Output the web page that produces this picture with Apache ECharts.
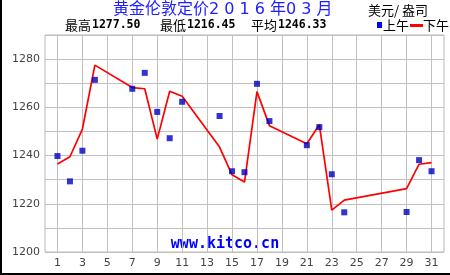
<!DOCTYPE html>
<html><head><meta charset="utf-8">
<script src="https://cdn.jsdelivr.net/npm/echarts@6/dist/echarts.min.js"></script>
<style>html,body{margin:0;padding:0;background:#fff}#c{width:450px;height:275px}</style>
</head><body><div id="c"></div>
<script>
const titleText = '黄金伦敦定价2 0 1 6 年0 3 月';
const unitText = '美元/ 盎司';
const statLabels = ['最高', '最低', '平均'];
const statValues = ['1277.50', '1216.45', '1246.33'];
const legendNames = ['上午', '下午'];
const xCategories = ['0','1','2','3','4','5','6','7','8','9','10','11','12','13','14','15','16','17','18','19','20','21','22','23','24','25','26','27','28','29','30','31','32'];
const days = [1,2,3,4,7,8,9,10,11,14,15,16,17,18,21,22,23,24,29,30,31];
const amFix = [1239.8,1229.3,1242.0,1271.4,1267.7,1274.3,1258.1,1247.2,1262.3,1256.4,1233.5,1233.1,1269.75,1254.3,1244.3,1251.8,1232.25,1216.45,1216.6,1238.1,1233.5];
const pmFix = [1236.5,1239.5,1251.0,1277.5,1268.2,1267.7,1246.8,1266.7,1264.6,1243.5,1232.0,1229.0,1266.5,1252.4,1244.9,1252.8,1217.4,1221.5,1226.3,1236.4,1237.1];
const yLabelStep = 20;
const watermark = 'www.kitco.cn';

const cjk = '"Noto Sans CJK SC", sans-serif';
const mixed = '"DejaVu Sans", "Noto Sans CJK SC", sans-serif';
const mono = '"DejaVu Sans Mono", monospace';
const oddDay = (i, v) => Number(v) % 2 === 1;
const chart = echarts.init(document.getElementById('c'), null, {renderer: 'canvas'});
const stats = [];
const statX = [65, 160, 251];
statLabels.forEach((l, i) => {
  stats.push({type: 'text', x: statX[i], y: 25, style: {text: l, fill: '#000', font: '13px ' + cjk, textVerticalAlign: 'middle'}});
  stats.push({type: 'text', x: statX[i] + 27, y: 25, style: {text: statValues[i], fill: '#000', font: 'bold 11.5px ' + mono, textVerticalAlign: 'middle'}});
});
chart.setOption({
  animation: false,
  grid: {left: 45, top: 35, right: 6, bottom: 23, show: true, borderColor: '#b8b8b8', borderWidth: 1},
  xAxis: {
    type: 'category', data: xCategories, boundaryGap: false,
    axisLine: {show: false},
    axisTick: {show: false},
    axisLabel: {interval: oddDay, color: '#444', fontFamily: 'DejaVu Sans', fontSize: 11, margin: 6},
    splitLine: {show: true, interval: oddDay, lineStyle: {color: '#c0c0c0', width: 1}}
  },
  yAxis: {
    type: 'value', min: 1200, max: 1290, interval: 10,
    axisLine: {show: false}, axisTick: {show: false},
    axisLabel: {color: '#444', fontFamily: 'DejaVu Sans', fontSize: 11, margin: 5,
      formatter: v => (v % yLabelStep === 0 && v < 1290) ? String(v) : ''},
    splitLine: {show: true, lineStyle: {color: '#c0c0c0', width: 1}}
  },
  series: [
    {name: legendNames[1], type: 'line', data: days.map((d, i) => [d, pmFix[i]]),
     showSymbol: false, lineStyle: {color: '#ff0000', width: 1.7}, z: 2},
    {name: legendNames[0], type: 'scatter', data: days.map((d, i) => [d, amFix[i]]),
     symbol: 'rect', symbolSize: 6, itemStyle: {color: '#0000c0'}, z: 3}
  ],
  graphic: [
    {type: 'rect', shape: {x: 0, y: 0, width: 2, height: 275}, style: {fill: '#000'}},
    {type: 'rect', shape: {x: 0, y: 273, width: 450, height: 2}, style: {fill: '#000'}},
    {type: 'text', x: 113, y: 10, style: {text: titleText, fill: '#2020ff', font: '16px ' + mixed, textAlign: 'left', textVerticalAlign: 'middle'}},
    {type: 'text', x: 368, y: 10, style: {text: unitText, fill: '#000', font: '13px ' + cjk, textAlign: 'left', textVerticalAlign: 'middle'}},
    ...stats,
    {type: 'rect', shape: {x: 377, y: 22, width: 5, height: 6}, style: {fill: '#0000ff'}},
    {type: 'text', x: 383, y: 25, style: {text: legendNames[0], fill: '#000', font: '13px ' + cjk, textVerticalAlign: 'middle'}},
    {type: 'rect', shape: {x: 410, y: 24, width: 13, height: 3}, style: {fill: '#ff0000'}},
    {type: 'text', x: 423, y: 25, style: {text: legendNames[1], fill: '#000', font: '13px ' + cjk, textVerticalAlign: 'middle'}},
    {type: 'text', x: 225, y: 244, style: {text: watermark, fill: '#0000ff', font: 'bold 15px ' + mono, textAlign: 'center', textVerticalAlign: 'middle'}}
  ]
});
</script></body></html>
